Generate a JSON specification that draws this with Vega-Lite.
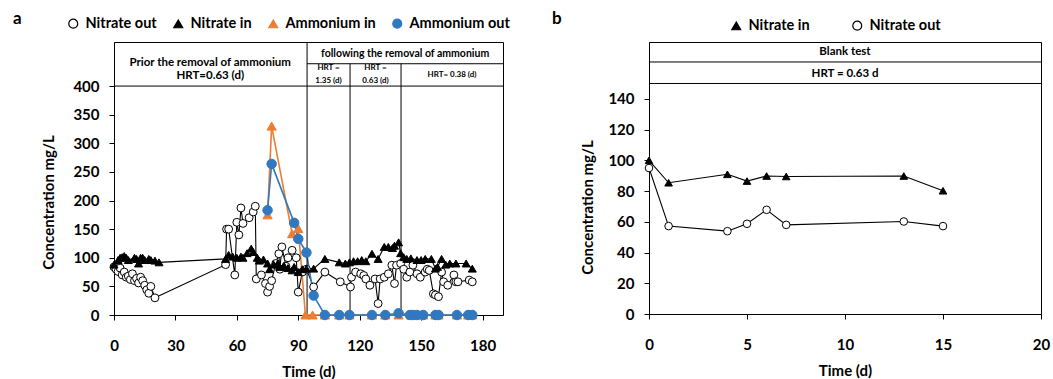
{
  "$schema": "https://vega.github.io/schema/vega-lite/v6.json",
  "padding": {"left": 12, "top": 9, "right": 5, "bottom": 0},
  "background": "white",
  "bounds": "flush",
  "spacing": 146,
  "config": {
    "font": "Lato",
    "view": {"stroke": "black", "strokeWidth": 1},
    "axis": {"grid": false, "labelOverlap": false, "labelFlush": false, "labelFont": "Lato", "labelFontSize": 15, "labelFontWeight": "bold", "labelColor": "black", "titleFont": "Lato", "titleFontSize": 15, "titleFontWeight": "bold", "titleColor": "black", "domainColor": "black", "tickColor": "black", "tickSize": 5},
    "axisY": {"labelOverlap": false, "labelBound": false, "labelSeparation": 0}
  },
  "datasets": {
    "aS": [
      {"series": "Nitrate out", "day": 0, "conc": 84}, {"series": "Nitrate out", "day": 1, "conc": 80}, {"series": "Nitrate out", "day": 2, "conc": 76}, {"series": "Nitrate out", "day": 3, "conc": 82}, {"series": "Nitrate out", "day": 4, "conc": 70}, {"series": "Nitrate out", "day": 5, "conc": 75}, {"series": "Nitrate out", "day": 6, "conc": 66}, {"series": "Nitrate out", "day": 7, "conc": 68}, {"series": "Nitrate out", "day": 8, "conc": 62}, {"series": "Nitrate out", "day": 9, "conc": 72}, {"series": "Nitrate out", "day": 10, "conc": 60}, {"series": "Nitrate out", "day": 11, "conc": 64}, {"series": "Nitrate out", "day": 12, "conc": 56}, {"series": "Nitrate out", "day": 13, "conc": 66}, {"series": "Nitrate out", "day": 14, "conc": 60}, {"series": "Nitrate out", "day": 15, "conc": 52}, {"series": "Nitrate out", "day": 16, "conc": 44}, {"series": "Nitrate out", "day": 17, "conc": 38}, {"series": "Nitrate out", "day": 18, "conc": 50}, {"series": "Nitrate out", "day": 20, "conc": 30},
      {"series": "Nitrate out", "day": 54.5, "conc": 88}, {"series": "Nitrate out", "day": 55, "conc": 150}, {"series": "Nitrate out", "day": 56, "conc": 150}, {"series": "Nitrate out", "day": 59, "conc": 70}, {"series": "Nitrate out", "day": 60, "conc": 162}, {"series": "Nitrate out", "day": 61, "conc": 140}, {"series": "Nitrate out", "day": 62, "conc": 187}, {"series": "Nitrate out", "day": 63, "conc": 160}, {"series": "Nitrate out", "day": 66, "conc": 170}, {"series": "Nitrate out", "day": 68, "conc": 180}, {"series": "Nitrate out", "day": 69, "conc": 190}, {"series": "Nitrate out", "day": 69.5, "conc": 63}, {"series": "Nitrate out", "day": 72, "conc": 70}, {"series": "Nitrate out", "day": 74, "conc": 55}, {"series": "Nitrate out", "day": 75, "conc": 40}, {"series": "Nitrate out", "day": 76, "conc": 50}, {"series": "Nitrate out", "day": 77, "conc": 60}, {"series": "Nitrate out", "day": 79, "conc": 90}, {"series": "Nitrate out", "day": 80.5, "conc": 107}, {"series": "Nitrate out", "day": 81, "conc": 80}, {"series": "Nitrate out", "day": 82, "conc": 119}, {"series": "Nitrate out", "day": 84, "conc": 85}, {"series": "Nitrate out", "day": 85, "conc": 100}, {"series": "Nitrate out", "day": 87, "conc": 113}, {"series": "Nitrate out", "day": 89, "conc": 100}, {"series": "Nitrate out", "day": 90, "conc": 40}, {"series": "Nitrate out", "day": 92, "conc": 75}, {"series": "Nitrate out", "day": 94, "conc": 80}, {"series": "Nitrate out", "day": 97.5, "conc": 49}, {"series": "Nitrate out", "day": 103, "conc": 75}, {"series": "Nitrate out", "day": 110.5, "conc": 58}, {"series": "Nitrate out", "day": 115.5, "conc": 49}, {"series": "Nitrate out", "day": 116, "conc": 66}, {"series": "Nitrate out", "day": 118, "conc": 75}, {"series": "Nitrate out", "day": 120.5, "conc": 72}, {"series": "Nitrate out", "day": 122, "conc": 69}, {"series": "Nitrate out", "day": 123, "conc": 63}, {"series": "Nitrate out", "day": 125, "conc": 52}, {"series": "Nitrate out", "day": 127.5, "conc": 63}, {"series": "Nitrate out", "day": 129, "conc": 20}, {"series": "Nitrate out", "day": 130, "conc": 63}, {"series": "Nitrate out", "day": 132, "conc": 66}, {"series": "Nitrate out", "day": 134, "conc": 72}, {"series": "Nitrate out", "day": 135.7, "conc": 87}, {"series": "Nitrate out", "day": 137, "conc": 55}, {"series": "Nitrate out", "day": 138, "conc": 87}, {"series": "Nitrate out", "day": 140, "conc": 90}, {"series": "Nitrate out", "day": 141.5, "conc": 80}, {"series": "Nitrate out", "day": 143, "conc": 66}, {"series": "Nitrate out", "day": 144.5, "conc": 75}, {"series": "Nitrate out", "day": 146, "conc": 87}, {"series": "Nitrate out", "day": 148, "conc": 72}, {"series": "Nitrate out", "day": 149.6, "conc": 66}, {"series": "Nitrate out", "day": 152, "conc": 75}, {"series": "Nitrate out", "day": 153, "conc": 80}, {"series": "Nitrate out", "day": 154, "conc": 78}, {"series": "Nitrate out", "day": 156, "conc": 37}, {"series": "Nitrate out", "day": 157, "conc": 35}, {"series": "Nitrate out", "day": 158.5, "conc": 32}, {"series": "Nitrate out", "day": 160, "conc": 75}, {"series": "Nitrate out", "day": 161, "conc": 58}, {"series": "Nitrate out", "day": 163, "conc": 52}, {"series": "Nitrate out", "day": 166, "conc": 70}, {"series": "Nitrate out", "day": 167, "conc": 58}, {"series": "Nitrate out", "day": 168, "conc": 58}, {"series": "Nitrate out", "day": 173.5, "conc": 61}, {"series": "Nitrate out", "day": 175, "conc": 58},
      {"series": "Nitrate in", "day": 0, "conc": 88}, {"series": "Nitrate in", "day": 2, "conc": 96}, {"series": "Nitrate in", "day": 3, "conc": 100}, {"series": "Nitrate in", "day": 4, "conc": 101}, {"series": "Nitrate in", "day": 5, "conc": 103}, {"series": "Nitrate in", "day": 6, "conc": 100}, {"series": "Nitrate in", "day": 7, "conc": 96}, {"series": "Nitrate in", "day": 10, "conc": 100}, {"series": "Nitrate in", "day": 11, "conc": 98}, {"series": "Nitrate in", "day": 12, "conc": 90}, {"series": "Nitrate in", "day": 13, "conc": 100}, {"series": "Nitrate in", "day": 14, "conc": 100}, {"series": "Nitrate in", "day": 15, "conc": 96}, {"series": "Nitrate in", "day": 17, "conc": 98}, {"series": "Nitrate in", "day": 18, "conc": 96}, {"series": "Nitrate in", "day": 20, "conc": 95}, {"series": "Nitrate in", "day": 22, "conc": 92},
      {"series": "Nitrate in", "day": 54.5, "conc": 98}, {"series": "Nitrate in", "day": 56, "conc": 105}, {"series": "Nitrate in", "day": 58, "conc": 102}, {"series": "Nitrate in", "day": 60, "conc": 100}, {"series": "Nitrate in", "day": 62, "conc": 102}, {"series": "Nitrate in", "day": 63, "conc": 100}, {"series": "Nitrate in", "day": 65, "conc": 108}, {"series": "Nitrate in", "day": 67, "conc": 116}, {"series": "Nitrate in", "day": 68, "conc": 110}, {"series": "Nitrate in", "day": 70, "conc": 100}, {"series": "Nitrate in", "day": 71, "conc": 95}, {"series": "Nitrate in", "day": 73, "conc": 97}, {"series": "Nitrate in", "day": 75, "conc": 90}, {"series": "Nitrate in", "day": 76, "conc": 80}, {"series": "Nitrate in", "day": 78, "conc": 88}, {"series": "Nitrate in", "day": 80, "conc": 90}, {"series": "Nitrate in", "day": 81, "conc": 84}, {"series": "Nitrate in", "day": 83, "conc": 86}, {"series": "Nitrate in", "day": 85, "conc": 82}, {"series": "Nitrate in", "day": 87, "conc": 78}, {"series": "Nitrate in", "day": 88, "conc": 84}, {"series": "Nitrate in", "day": 90, "conc": 75}, {"series": "Nitrate in", "day": 92, "conc": 80}, {"series": "Nitrate in", "day": 94, "conc": 81}, {"series": "Nitrate in", "day": 97.5, "conc": 81}, {"series": "Nitrate in", "day": 103, "conc": 98}, {"series": "Nitrate in", "day": 110, "conc": 92}, {"series": "Nitrate in", "day": 113, "conc": 90}, {"series": "Nitrate in", "day": 115, "conc": 92}, {"series": "Nitrate in", "day": 117, "conc": 94}, {"series": "Nitrate in", "day": 119, "conc": 94}, {"series": "Nitrate in", "day": 121, "conc": 96}, {"series": "Nitrate in", "day": 123, "conc": 94}, {"series": "Nitrate in", "day": 126, "conc": 107}, {"series": "Nitrate in", "day": 129, "conc": 98}, {"series": "Nitrate in", "day": 132, "conc": 119}, {"series": "Nitrate in", "day": 134, "conc": 119}, {"series": "Nitrate in", "day": 136, "conc": 117}, {"series": "Nitrate in", "day": 137, "conc": 121}, {"series": "Nitrate in", "day": 139, "conc": 127}, {"series": "Nitrate in", "day": 140, "conc": 108}, {"series": "Nitrate in", "day": 141.5, "conc": 101}, {"series": "Nitrate in", "day": 143, "conc": 98}, {"series": "Nitrate in", "day": 145, "conc": 99}, {"series": "Nitrate in", "day": 148, "conc": 96}, {"series": "Nitrate in", "day": 150, "conc": 96}, {"series": "Nitrate in", "day": 152, "conc": 98}, {"series": "Nitrate in", "day": 155, "conc": 98}, {"series": "Nitrate in", "day": 157, "conc": 81}, {"series": "Nitrate in", "day": 158, "conc": 84}, {"series": "Nitrate in", "day": 160, "conc": 98}, {"series": "Nitrate in", "day": 162, "conc": 88}, {"series": "Nitrate in", "day": 164, "conc": 90}, {"series": "Nitrate in", "day": 167, "conc": 90}, {"series": "Nitrate in", "day": 172, "conc": 90}, {"series": "Nitrate in", "day": 175, "conc": 81},
      {"series": "Ammonium in", "day": 75, "conc": 175}, {"series": "Ammonium in", "day": 77, "conc": 330}, {"series": "Ammonium in", "day": 87, "conc": 142}, {"series": "Ammonium in", "day": 90, "conc": 151}, {"series": "Ammonium in", "day": 93.5, "conc": 0}, {"series": "Ammonium in", "day": 97, "conc": 0}, {"series": "Ammonium in", "day": 103, "conc": 0}, {"series": "Ammonium in", "day": 110, "conc": 0}, {"series": "Ammonium in", "day": 115, "conc": 0}, {"series": "Ammonium in", "day": 126, "conc": 0}, {"series": "Ammonium in", "day": 132.5, "conc": 0}, {"series": "Ammonium in", "day": 139, "conc": 0}, {"series": "Ammonium in", "day": 145, "conc": 0}, {"series": "Ammonium in", "day": 146.5, "conc": 0}, {"series": "Ammonium in", "day": 148, "conc": 0}, {"series": "Ammonium in", "day": 151, "conc": 0}, {"series": "Ammonium in", "day": 157, "conc": 0}, {"series": "Ammonium in", "day": 158.5, "conc": 0}, {"series": "Ammonium in", "day": 167.5, "conc": 0}, {"series": "Ammonium in", "day": 173, "conc": 0}, {"series": "Ammonium in", "day": 175, "conc": 0},
      {"series": "Ammonium out", "day": 75, "conc": 183}, {"series": "Ammonium out", "day": 77, "conc": 264}, {"series": "Ammonium out", "day": 88, "conc": 161}, {"series": "Ammonium out", "day": 90, "conc": 133}, {"series": "Ammonium out", "day": 94, "conc": 109}, {"series": "Ammonium out", "day": 97.5, "conc": 34}, {"series": "Ammonium out", "day": 103, "conc": 0}, {"series": "Ammonium out", "day": 110, "conc": 0}, {"series": "Ammonium out", "day": 115, "conc": 0}, {"series": "Ammonium out", "day": 126, "conc": 0}, {"series": "Ammonium out", "day": 132.5, "conc": 0}, {"series": "Ammonium out", "day": 139, "conc": 3}, {"series": "Ammonium out", "day": 144.5, "conc": 0}, {"series": "Ammonium out", "day": 146, "conc": 0}, {"series": "Ammonium out", "day": 148, "conc": 0}, {"series": "Ammonium out", "day": 151, "conc": 0}, {"series": "Ammonium out", "day": 157, "conc": 0}, {"series": "Ammonium out", "day": 158.5, "conc": 0}, {"series": "Ammonium out", "day": 167.5, "conc": 0}, {"series": "Ammonium out", "day": 173, "conc": 0}, {"series": "Ammonium out", "day": 175, "conc": 0}
    ],
    "aV": [{"day": 94.3, "lo": 0, "hi": 477}, {"day": 115.3, "lo": 0, "hi": 439}, {"day": 140.2, "lo": 0, "hi": 439}],
    "aH": [{"from": 0, "to": 190, "at": 400}, {"from": 94.3, "to": 190, "at": 439}],
    "aT1": [{"day": 47, "conc": 440, "label": "Prior the removal of ammonium"}, {"day": 47, "conc": 417, "label": "HRT=0.63 (d)"}],
    "aT2": [{"day": 142.2, "conc": 456.5, "label": "following the removal of ammonium"}],
    "aT3": [{"day": 104.8, "conc": 431, "label": "HRT ="}, {"day": 104.8, "conc": 408, "label": "1.35 (d)"}, {"day": 127.7, "conc": 431, "label": "HRT ="}, {"day": 127.7, "conc": 408, "label": "0.63 (d)"}, {"day": 165.1, "conc": 419.5, "label": "HRT= 0.38 (d)"}],
    "bS": [
      {"series": "Nitrate in", "day": 0, "conc": 100}, {"series": "Nitrate in", "day": 1, "conc": 85.4}, {"series": "Nitrate in", "day": 4, "conc": 90.9}, {"series": "Nitrate in", "day": 5, "conc": 86.5}, {"series": "Nitrate in", "day": 6, "conc": 89.8}, {"series": "Nitrate in", "day": 7, "conc": 89.5}, {"series": "Nitrate in", "day": 13, "conc": 89.8}, {"series": "Nitrate in", "day": 15, "conc": 80.2},
      {"series": "Nitrate out", "day": 0, "conc": 95}, {"series": "Nitrate out", "day": 1, "conc": 57.2}, {"series": "Nitrate out", "day": 4, "conc": 53.9}, {"series": "Nitrate out", "day": 5, "conc": 58.7}, {"series": "Nitrate out", "day": 6, "conc": 67.8}, {"series": "Nitrate out", "day": 7, "conc": 58}, {"series": "Nitrate out", "day": 13, "conc": 60.2}, {"series": "Nitrate out", "day": 15, "conc": 57.2}
    ],
    "bH": [{"from": 0, "to": 20, "at": 150}, {"from": 0, "to": 20, "at": 164}],
    "bT": [{"day": 10, "conc": 170.6, "label": "Blank test"}, {"day": 10, "conc": 156.5, "label": "HRT = 0.63 d"}]
  },
  "hconcat": [
    {
      "width": 389,
      "height": 273,
      "title": {"text": "a", "anchor": "start", "frame": "group", "dx": -101, "offset": 0, "dy": 12, "fontSize": 17, "font": "Lato", "fontWeight": "bold", "color": "black"},
      "layer": [
        {
          "data": {"name": "aS"},
          "transform": [{"filter": {"field": "series", "oneOf": ["Nitrate out", "Nitrate in"]}}],
          "mark": {"type": "line", "strokeWidth": 1.1},
          "encoding": {
            "x": {"field": "day", "type": "quantitative", "scale": {"domain": [0, 190], "nice": false}, "axis": {"title": "Time (d)", "values": [0, 30, 60, 90, 120, 150, 180], "labelOverlap": false, "labelPadding": 18, "titlePadding": 11}},
            "y": {"field": "conc", "type": "quantitative", "scale": {"domain": [0, 477], "nice": false}, "axis": {"title": "Concentration mg/L", "values": [0, 50, 100, 150, 200, 250, 300, 350, 400], "tickCount": 20, "labelOverlap": false, "labelSeparation": 0, "labelBound": false, "labelPadding": 10, "titlePadding": 16, "titleY": 160}},
            "stroke": {"field": "series", "type": "nominal", "scale": {"domain": ["Nitrate out", "Nitrate in", "Ammonium in", "Ammonium out"], "range": ["black", "black", "#ED7D31", "#3078C0"]}}
          }
        },
        {
          "data": {"name": "aS"},
          "transform": [{"filter": {"field": "series", "oneOf": ["Ammonium in", "Ammonium out"]}}],
          "mark": {"type": "line", "strokeWidth": 1.6},
          "encoding": {
            "x": {"field": "day", "type": "quantitative"},
            "y": {"field": "conc", "type": "quantitative"},
            "stroke": {"field": "series", "type": "nominal"}
          }
        },
        {
          "data": {"name": "aV"},
          "mark": {"type": "rule", "color": "black", "strokeWidth": 1},
          "encoding": {
            "x": {"field": "day", "type": "quantitative"},
            "y": {"field": "lo", "type": "quantitative"},
            "y2": {"field": "hi"}
          }
        },
        {
          "data": {"name": "aH"},
          "mark": {"type": "rule", "color": "black", "strokeWidth": 1},
          "encoding": {
            "x": {"field": "from", "type": "quantitative"},
            "x2": {"field": "to"},
            "y": {"field": "at", "type": "quantitative"}
          }
        },
        {
          "data": {"name": "aT1"},
          "mark": {"type": "text", "font": "Lato", "fontWeight": "bold", "fontSize": 11.5, "color": "black", "align": "center", "baseline": "middle"},
          "encoding": {
            "x": {"field": "day", "type": "quantitative"},
            "y": {"field": "conc", "type": "quantitative"},
            "text": {"field": "label"}
          }
        },
        {
          "data": {"name": "aT2"},
          "mark": {"type": "text", "font": "Lato", "fontWeight": "bold", "fontSize": 10.5, "color": "black", "align": "center", "baseline": "middle"},
          "encoding": {
            "x": {"field": "day", "type": "quantitative"},
            "y": {"field": "conc", "type": "quantitative"},
            "text": {"field": "label"}
          }
        },
        {
          "data": {"name": "aT3"},
          "mark": {"type": "text", "font": "Lato", "fontWeight": "bold", "fontSize": 8, "color": "black", "align": "center", "baseline": "middle"},
          "encoding": {
            "x": {"field": "day", "type": "quantitative"},
            "y": {"field": "conc", "type": "quantitative"},
            "text": {"field": "label"}
          }
        },
        {
          "data": {"name": "aS"},
          "transform": [{"filter": {"field": "series", "equal": "Nitrate out"}}],
          "mark": {"type": "point", "opacity": 1, "strokeWidth": 1, "size": 62},
          "encoding": {
            "x": {"field": "day", "type": "quantitative"},
            "y": {"field": "conc", "type": "quantitative"},
            "fill": {"field": "series", "type": "nominal", "scale": {"domain": ["Nitrate out", "Nitrate in", "Ammonium in", "Ammonium out"], "range": ["white", "black", "#ED7D31", "#3078C0"]},
              "legend": {"title": null, "orient": "none", "legendX": -48, "legendY": -26, "direction": "horizontal", "symbolSize": 80, "symbolStrokeWidth": 1.2, "labelFont": "Lato", "labelFontSize": 14.5, "labelFontWeight": "bold", "labelColor": "black", "columnPadding": 14, "labelOffset": 5}},
            "stroke": {"field": "series", "type": "nominal"},
            "shape": {"field": "series", "type": "nominal", "scale": {"domain": ["Nitrate out", "Nitrate in", "Ammonium in", "Ammonium out"], "range": ["circle", "triangle-up", "triangle-up", "circle"]}}
          }
        },
        {
          "data": {"name": "aS"},
          "transform": [{"filter": {"field": "series", "equal": "Nitrate in"}}],
          "mark": {"type": "point", "opacity": 1, "strokeWidth": 1, "size": 64},
          "encoding": {
            "x": {"field": "day", "type": "quantitative"},
            "y": {"field": "conc", "type": "quantitative"},
            "fill": {"field": "series", "type": "nominal"},
            "stroke": {"field": "series", "type": "nominal"},
            "shape": {"field": "series", "type": "nominal"}
          }
        },
        {
          "data": {"name": "aS"},
          "transform": [{"filter": {"field": "series", "equal": "Ammonium in"}}],
          "mark": {"type": "point", "opacity": 1, "strokeWidth": 1, "size": 85},
          "encoding": {
            "x": {"field": "day", "type": "quantitative"},
            "y": {"field": "conc", "type": "quantitative"},
            "fill": {"field": "series", "type": "nominal"},
            "stroke": {"field": "series", "type": "nominal"},
            "shape": {"field": "series", "type": "nominal"}
          }
        },
        {
          "data": {"name": "aS"},
          "transform": [{"filter": {"field": "series", "equal": "Ammonium out"}}],
          "mark": {"type": "point", "opacity": 1, "strokeWidth": 1, "size": 90},
          "encoding": {
            "x": {"field": "day", "type": "quantitative"},
            "y": {"field": "conc", "type": "quantitative"},
            "fill": {"field": "series", "type": "nominal"},
            "stroke": {"field": "series", "type": "nominal"},
            "shape": {"field": "series", "type": "nominal"}
          }
        }
      ]
    },
    {
      "width": 392,
      "height": 272,
      "title": {"text": "b", "anchor": "start", "frame": "group", "dx": -97, "offset": 0, "dy": 10, "fontSize": 17, "font": "Lato", "fontWeight": "bold", "color": "black"},
      "layer": [
        {
          "data": {"name": "bS"},
          "mark": {"type": "line", "strokeWidth": 1.1},
          "encoding": {
            "x": {"field": "day", "type": "quantitative", "scale": {"domain": [0, 20], "nice": false}, "axis": {"title": "Time (d)", "values": [0, 5, 10, 15, 20], "labelOverlap": false, "labelPadding": 18, "titlePadding": 11}},
            "y": {"field": "conc", "type": "quantitative", "scale": {"domain": [0, 177], "nice": false}, "axis": {"title": "Concentration mg/L", "values": [0, 20, 40, 60, 80, 100, 120, 140], "tickCount": 20, "labelOverlap": false, "labelSeparation": 0, "labelBound": false, "labelPadding": 10, "titlePadding": 12, "titleY": 165}},
            "stroke": {"field": "series", "type": "nominal", "scale": {"domain": ["Nitrate in", "Nitrate out"], "range": ["black", "black"]}}
          }
        },
        {
          "data": {"name": "bH"},
          "mark": {"type": "rule", "color": "black", "strokeWidth": 1},
          "encoding": {
            "x": {"field": "from", "type": "quantitative"},
            "x2": {"field": "to"},
            "y": {"field": "at", "type": "quantitative"}
          }
        },
        {
          "data": {"name": "bT"},
          "mark": {"type": "text", "font": "Lato", "fontWeight": "bold", "fontSize": 11.5, "color": "black", "align": "center", "baseline": "middle"},
          "encoding": {
            "x": {"field": "day", "type": "quantitative"},
            "y": {"field": "conc", "type": "quantitative"},
            "text": {"field": "label"}
          }
        },
        {
          "data": {"name": "bS"},
          "transform": [{"filter": {"field": "series", "equal": "Nitrate in"}}],
          "mark": {"type": "point", "opacity": 1, "strokeWidth": 1, "size": 58},
          "encoding": {
            "x": {"field": "day", "type": "quantitative"},
            "y": {"field": "conc", "type": "quantitative"},
            "fill": {"field": "series", "type": "nominal", "scale": {"domain": ["Nitrate in", "Nitrate out"], "range": ["black", "white"]},
              "legend": {"title": null, "orient": "none", "legendX": 80, "legendY": -24, "direction": "horizontal", "symbolSize": 80, "symbolStrokeWidth": 1.2, "labelFont": "Lato", "labelFontSize": 14.5, "labelFontWeight": "bold", "labelColor": "black", "columnPadding": 40, "labelOffset": 5}},
            "stroke": {"field": "series", "type": "nominal"},
            "shape": {"field": "series", "type": "nominal", "scale": {"domain": ["Nitrate in", "Nitrate out"], "range": ["triangle-up", "circle"]}}
          }
        },
        {
          "data": {"name": "bS"},
          "transform": [{"filter": {"field": "series", "equal": "Nitrate out"}}],
          "mark": {"type": "point", "opacity": 1, "strokeWidth": 1, "size": 58},
          "encoding": {
            "x": {"field": "day", "type": "quantitative"},
            "y": {"field": "conc", "type": "quantitative"},
            "fill": {"field": "series", "type": "nominal"},
            "stroke": {"field": "series", "type": "nominal"},
            "shape": {"field": "series", "type": "nominal"}
          }
        }
      ]
    }
  ],
  "resolve": {
    "scale": {"fill": "independent", "stroke": "independent", "shape": "independent"},
    "legend": {"fill": "independent", "stroke": "independent", "shape": "independent"}
  }
}
